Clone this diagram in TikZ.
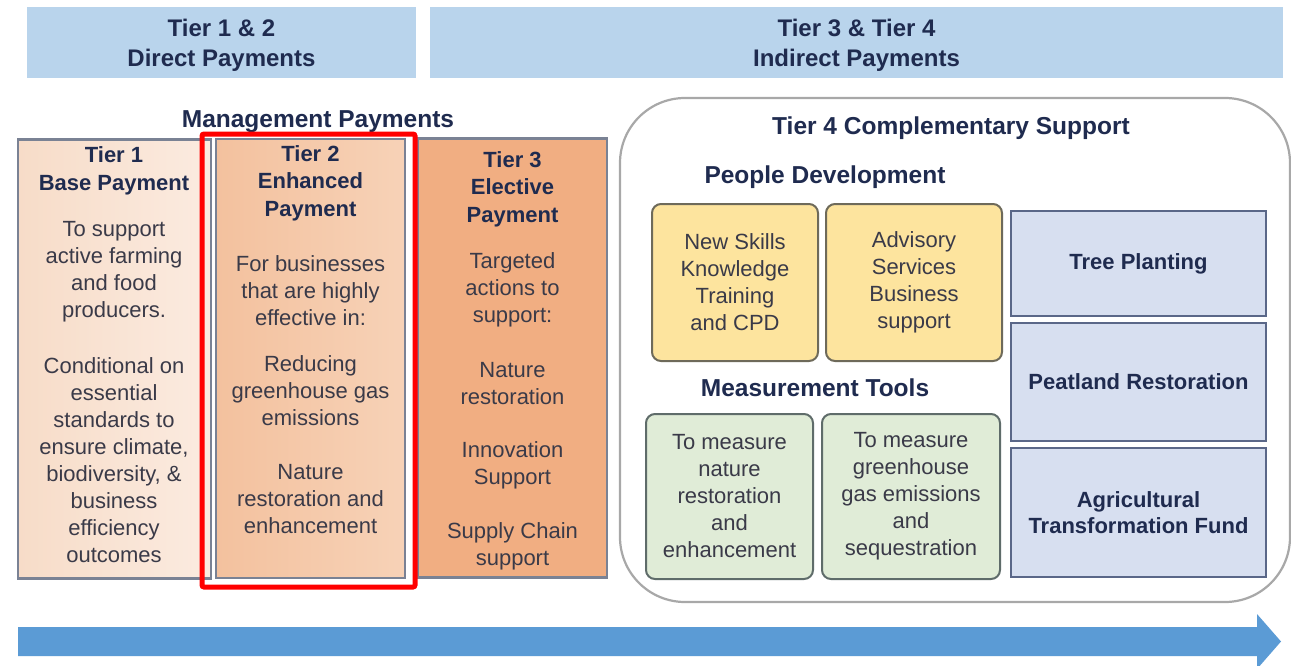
\documentclass[tikz,border=0pt]{standalone}
\usepackage{fontspec}
\setmainfont{Liberation Sans}
\definecolor{hdrblue}{HTML}{B9D4EC}
\definecolor{navy}{HTML}{1F2B4F}
\definecolor{bodytxt}{HTML}{3A3A48}
\definecolor{tonefillA}{HTML}{F7DCC8}
\definecolor{tonefillB}{HTML}{FBEBE0}
\definecolor{ttwofillA}{HTML}{F3C19E}
\definecolor{ttwofillB}{HTML}{F7D2B7}
\definecolor{tthreefill}{HTML}{F1AE82}
\definecolor{tierline}{HTML}{7A8294}
\definecolor{yelfill}{HTML}{FDE49E}
\definecolor{yelline}{HTML}{6E6A5A}
\definecolor{grnfill}{HTML}{E0ECD7}
\definecolor{grnline}{HTML}{5F6C6A}
\definecolor{bluefill}{HTML}{D7DFF0}
\definecolor{blueline}{HTML}{5A6788}
\definecolor{frameline}{HTML}{A8A8A8}
\definecolor{arrowblue}{HTML}{5B9BD5}
\begin{document}
\begin{tikzpicture}[x=1pt,y=-1pt,
  banner/.style={fill=hdrblue, inner sep=0pt},
  bannertext/.style={text=navy, inner sep=0pt, align=center, yshift=-2.5pt,
    font=\fontsize{24}{30}\selectfont\bfseries},
  tierbox/.style={draw=tierline, line width=2.5pt, inner sep=0pt},
  heading/.style={text=navy, inner sep=0pt, yshift=-2pt, font=\fontsize{24.5}{30}\selectfont\bfseries},
  tiertitle/.style={text=navy, inner sep=0pt, align=center, yshift=-2.5pt, font=\fontsize{22}{27.5}\selectfont\bfseries},
  body/.style={text=bodytxt, inner sep=0pt, align=center, yshift=-2pt, font=\fontsize{22}{27}\selectfont},
  yelbox/.style={draw=yelline, fill=yelfill, line width=2pt, rounded corners=9pt, inner sep=0pt,
    text=bodytxt, align=center, font=\fontsize{22}{27}\selectfont},
  grnbox/.style={draw=grnline, fill=grnfill, line width=2pt, rounded corners=9pt, inner sep=0pt,
    text=bodytxt, align=center, font=\fontsize{22}{27}\selectfont},
  bluebox/.style={draw=blueline, fill=bluefill, line width=2pt, inner sep=0pt,
    text=navy, align=center, font=\fontsize{22}{26}\selectfont\bfseries},
]
\useasboundingbox[fill=white] (0,0) rectangle (1291,665);

% top banners
\node[banner, minimum width=389pt, minimum height=71pt] (bannerA) at (221.5,42.5) {};
\node[bannertext] (bannerAtext) at (bannerA.center) {Tier 1 \& 2\\Direct Payments};
\node[banner, minimum width=853pt, minimum height=71pt] (bannerB) at (856.5,42.5) {};
\node[bannertext] (bannerBtext) at (bannerB.center) {Tier 3 \& Tier 4\\Indirect Payments};

% management payments
\node[heading] (mgmt) at (318,120) {Management Payments};

\node[tierbox, left color=tonefillA, right color=tonefillB, minimum width=193pt, minimum height=439pt] (tierA) at (114.5,359) {};
\node[tierbox, left color=ttwofillA, right color=ttwofillB, minimum width=189pt, minimum height=439pt] (tierB) at (310.5,358.5) {};
\node[tierbox, fill=tthreefill, minimum width=189pt, minimum height=439pt] (tierC) at (512.5,358) {};

\node[tiertitle] (tAt) at (114,168.5) {Tier 1\\Base Payment};
\node[body] (tAp1) at (114,269.5) {To support\\active farming\\and food\\producers.};
\node[body] (tAp2) at (114,458.5) {Conditional on\\essential\\standards to\\ensure climate,\\biodiversity, \&\\business\\efficiency\\outcomes};

\node[tiertitle] (tBt) at (310.5,180.5) {Tier 2\\Enhanced\\Payment};
\node[body] (tBp1) at (310.5,288.5) {For businesses\\that are highly\\effective in:};
\node[body] (tBp2) at (310.5,389) {Reducing\\greenhouse gas\\emissions};
\node[body] (tBp3) at (310.5,497) {Nature\\restoration and\\enhancement};

\node[tiertitle] (tCt) at (512.5,186.5) {Tier 3\\Elective\\Payment};
\node[body] (tCp1) at (512.5,287.5) {Targeted\\actions to\\support:};
\node[body] (tCp2) at (512.5,381.5) {Nature\\restoration};
\node[body] (tCp3) at (512.5,463.5) {Innovation\\Support};
\node[body] (tCp4) at (512.5,544.5) {Supply Chain\\support};

% red highlight
\node[draw=red, line width=5pt, rounded corners=2pt, minimum width=213pt, minimum height=453pt, inner sep=0pt] (highlight) at (308.5,360.5) {};

% tier 4 frame
\node[draw=frameline, fill=white, line width=2.2pt, rounded corners=65pt, minimum width=670pt, minimum height=504pt, inner sep=0pt] (tierD) at (955,350) {};
\node[heading] (tDt) at (951,126) {Tier 4 Complementary Support};
\node[heading] (people) at (825,175) {People Development};
\node[heading] (measure) at (815,386) {Measurement Tools};

\node[yelbox, minimum width=166pt, minimum height=157pt] (skills) at (735,282.5) {New Skills\\Knowledge\\Training\\and CPD};
\node[yelbox, minimum width=176pt, minimum height=157pt] (advisory) at (914,282.5) {Advisory\\Services\\Business\\support};

\node[grnbox, minimum width=167pt, minimum height=165pt] (mnature) at (729.5,496.5) {To measure\\nature\\restoration\\and\\enhancement};
\node[grnbox, minimum width=178pt, minimum height=165pt] (mghg) at (911,496.5) {To measure\\greenhouse\\gas emissions\\and\\sequestration};

\node[bluebox, minimum width=255pt, minimum height=105pt] (trees) at (1138.5,263.5) {Tree Planting};
\node[bluebox, minimum width=255pt, minimum height=118pt] (peat) at (1138.5,382) {Peatland Restoration};
\node[bluebox, minimum width=255pt, minimum height=129pt] (atf) at (1138.5,512.5) {Agricultural\\Transformation Fund};

% bottom arrow
\fill[arrowblue] (18,627) -- (1257,627) -- (1257,614) -- (1281,641.5) -- (1257,669) -- (1257,656) -- (18,656) -- cycle;
\end{tikzpicture}
\end{document}
